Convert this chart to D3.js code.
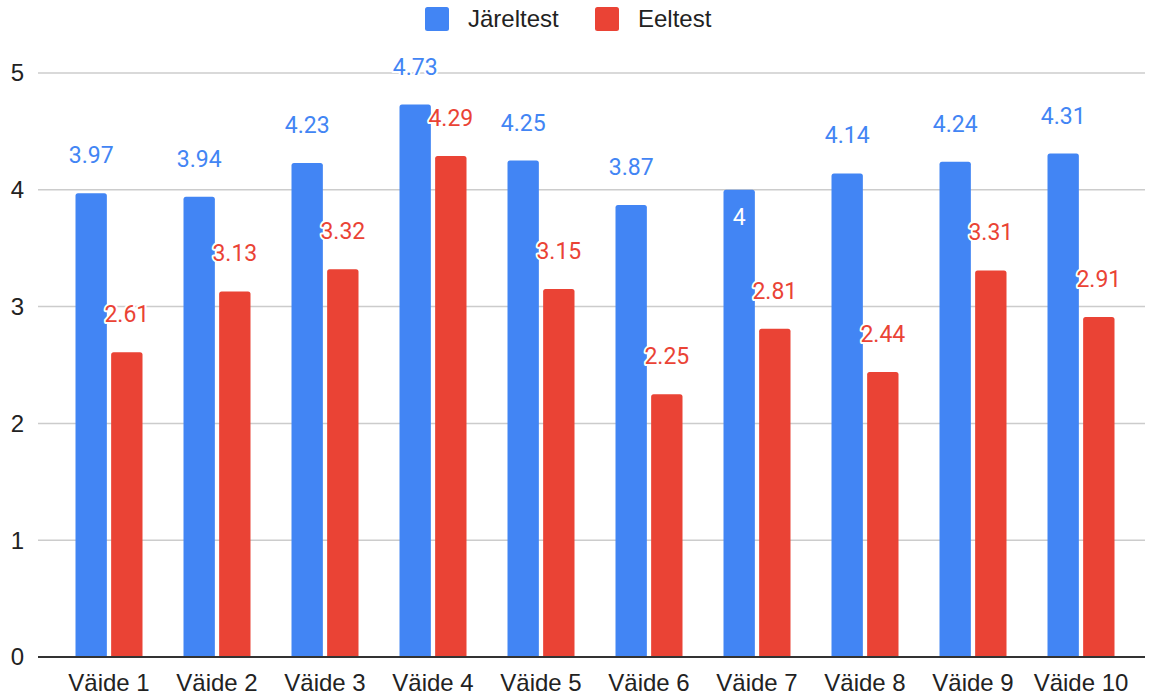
<!DOCTYPE html>
<html>
<head>
<meta charset="utf-8">
<script src="https://cdn.jsdelivr.net/npm/d3@7"></script>
<style>
  html, body { margin: 0; padding: 0; background: #fff; }
  svg { display: block; font-family: "Liberation Sans", Arial, sans-serif; }
  .value { font-family: Roboto, "Noto Sans", sans-serif; }
</style>
</head>
<body>
<svg id="chart" width="1149" height="696"></svg>
<script>
// Statements and the mean scores of the two test rounds
const categories = ["Väide 1", "Väide 2", "Väide 3", "Väide 4", "Väide 5",
                    "Väide 6", "Väide 7", "Väide 8", "Väide 9", "Väide 10"];
const seriesNames = ["Järeltest", "Eeltest"];
const jareltest = [3.97, 3.94, 4.23, 4.73, 4.25, 3.87, 4, 4.14, 4.24, 4.31];
const eeltest = [2.61, 3.13, 3.32, 4.29, 3.15, 2.25, 2.81, 2.44, 3.31, 2.91];
const yTicks = [0, 1, 2, 3, 4, 5];

const colors = { "Järeltest": "#4285F4", "Eeltest": "#EA4335" };
const seriesValues = { "Järeltest": jareltest, "Eeltest": eeltest };

const svg = d3.select("#chart");
const plot = { left: 38, right: 1145, top: 73, bottom: 657 };

const x0 = d3.scaleBand().domain(categories).range([55, 1135]).paddingInner(0).paddingOuter(0);
const x1 = d3.scaleBand().domain(seriesNames).range([x0.bandwidth() / 2 - 33.5, x0.bandwidth() / 2 + 33.5]).paddingInner(0.12);
const y = d3.scaleLinear().domain([0, 5]).range([plot.bottom, plot.top]);

// gridlines
svg.append("g")
  .selectAll("line")
  .data(yTicks.filter(d => d !== 0))
  .join("line")
  .attr("x1", plot.left).attr("x2", plot.right)
  .attr("y1", d => y(d)).attr("y2", d => y(d))
  .attr("stroke", "#cccccc").attr("stroke-width", 1.5);

// y tick labels
svg.append("g")
  .selectAll("text")
  .data(yTicks)
  .join("text")
  .attr("x", 24)
  .attr("y", d => y(d))
  .attr("dy", "0.35em")
  .attr("text-anchor", "end")
  .attr("font-size", 24)
  .attr("fill", "#222")
  .text(d => d);

// bars, with slightly rounded tops
function topRounded(xp, yp, w, h, r) {
  return `M${xp},${yp + h}V${yp + r}Q${xp},${yp} ${xp + r},${yp}H${xp + w - r}Q${xp + w},${yp} ${xp + w},${yp + r}V${yp + h}Z`;
}

const rows = categories.map((c, i) => ({
  cat: c,
  items: seriesNames.map(s => ({ series: s, value: seriesValues[s][i] }))
}));

const groups = svg.append("g")
  .selectAll("g")
  .data(rows)
  .join("g")
  .attr("transform", d => `translate(${x0(d.cat)},0)`);

groups.selectAll("path")
  .data(d => d.items)
  .join("path")
  .attr("d", d => topRounded(x1(d.series), y(d.value), x1.bandwidth(), y(0) - y(d.value), 2.5))
  .attr("fill", d => colors[d.series]);

// zero baseline
svg.append("line")
  .attr("x1", plot.left).attr("x2", plot.right)
  .attr("y1", y(0)).attr("y2", y(0))
  .attr("stroke", "#333").attr("stroke-width", 2);

// value labels; the label of a bar that would crowd the next bar sits inside it
const insideLabels = new Set(["Väide 7|Järeltest"]);
const isInside = d => insideLabels.has(d.cat + "|" + d.series);
groups.selectAll("text.value")
  .data(d => d.items.map(it => ({ ...it, cat: d.cat })))
  .join("text")
  .attr("class", "value")
  .attr("x", d => x1(d.series) + x1.bandwidth() / 2)
  .attr("y", d => isInside(d) ? y(d.value) + 35 : y(d.value) - 30)
  .attr("text-anchor", "middle")
  .attr("font-size", 23)
  .attr("fill", d => isInside(d) ? "#ffffff" : colors[d.series])
  .attr("stroke", d => isInside(d) ? "none" : "#ffffff")
  .attr("stroke-width", 4)
  .attr("stroke-linejoin", "round")
  .attr("paint-order", "stroke")
  .text(d => d.value);

// category labels
svg.append("g")
  .selectAll("text")
  .data(categories)
  .join("text")
  .attr("x", d => x0(d) + x0.bandwidth() / 2)
  .attr("y", 691)
  .attr("text-anchor", "middle")
  .attr("font-size", 24)
  .attr("fill", "#222")
  .text(d => d);

// legend
const legendItems = [
  { name: "Järeltest", sx: 425, tx: 468 },
  { name: "Eeltest", sx: 595, tx: 638 }
];
const legend = svg.append("g");
legend.selectAll("rect")
  .data(legendItems)
  .join("rect")
  .attr("x", d => d.sx).attr("y", 7)
  .attr("width", 24).attr("height", 24)
  .attr("rx", 2.5)
  .attr("fill", d => colors[d.name]);
legend.selectAll("text")
  .data(legendItems)
  .join("text")
  .attr("x", d => d.tx).attr("y", 27)
  .attr("font-size", 24)
  .attr("fill", "#222")
  .text(d => d.name);
</script>
</body>
</html>
